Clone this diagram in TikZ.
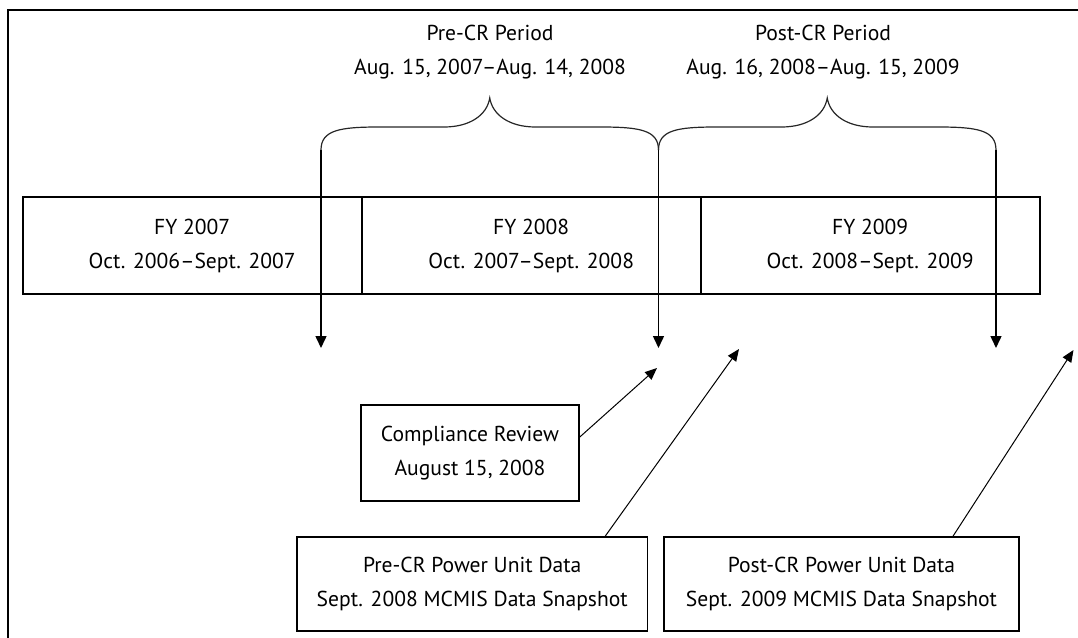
\documentclass[tikz,border=0pt]{standalone}
\usepackage{fontspec}
\setmainfont{PT Sans}
\usetikzlibrary{arrows.meta,calc}
\tikzset{
  pics/bracepic/.style={code={
    \draw[brace] (0,0) .. controls (0,-20) and (19,-23) .. (58,-23) -- (123,-23)
      .. controls (149,-23) and (166,-35) .. (168.75,-52)
      .. controls (171.5,-35) and (188.5,-23) .. (214.5,-23) -- (279.5,-23)
      .. controls (318.5,-23) and (337.5,-20) .. (337.5,0);
  }}
}
\begin{document}
\begin{tikzpicture}[x=0.5pt,y=-0.5pt,
  txt/.style={font=\fontsize{10.8}{17}\selectfont},
  box/.style={draw, line width=0.8pt, inner sep=0pt, align=center, txt},
  fybox/.style={box, minimum width=169.5pt, minimum height=48.5pt},
  lbl/.style={inner sep=0pt, align=center, txt},
  arr/.style={line width=0.75pt, -{Triangle[length=6pt,width=5.5pt]}},
  darr/.style={line width=0.5pt, -{Triangle[length=6pt,width=5pt]}},
  brace/.style={line width=0.6pt, draw=black!85},
]
\useasboundingbox (0,0) rectangle (1078,638);
\draw[line width=0.85pt] (8,638) -- (8,10) -- (1078,10);

% timeline
\node[fybox] (fy7) at (192.2,245.5) {FY 2007\\Oct. 2006–Sept. 2007};
\node[fybox] (fy8) at (531.2,245.5) {FY 2008\\Oct. 2007–Sept. 2008};
\node[fybox] (fy9) at (870.2,245.5) {FY 2009\\Oct. 2008–Sept. 2009};

% period labels
\node[lbl] (prelbl) at (490,52.5) {Pre-CR Period\\Aug. 15, 2007–Aug. 14, 2008};
\node[lbl] (postlbl) at (823,52.5) {Post-CR Period\\Aug. 16, 2008–Aug. 15, 2009};

% braces
\coordinate (b1l) at (321,150);
\coordinate (b1r) at (658.5,150);
\coordinate (b2r) at (996,150);
\pic at (b1l) {bracepic};
\pic at (b1r) {bracepic};

% arrow tips
\coordinate (d1) at (321,348);
\coordinate (d2) at (658.5,348);
\coordinate (d3) at (996,348);
\draw[arr] (b1l) -- (d1);
\draw[arr] (b1r) -- (d2);
\draw[arr] (b2r) -- (d3);

% lower boxes
\node[box, minimum width=109pt, minimum height=48pt] (cr) at (470,453)
  {Compliance Review\\August 15, 2008};
\node[box, minimum width=175.25pt, minimum height=47pt] (pre) at (472.2,584)
  {Pre-CR Power Unit Data\\Sept. 2008 MCMIS Data Snapshot};
\node[box, minimum width=177.5pt, minimum height=47pt] (post) at (841.5,584)
  {Post-CR Power Unit Data\\Sept. 2009 MCMIS Data Snapshot};

\coordinate (t1) at (657,368);
\coordinate (t2) at (739,349);
\coordinate (t3) at (1073.5,350);
\draw[darr] ([yshift=8pt]cr.east) -- (t1);
\draw[darr] ([xshift=66.5pt]pre.north) -- (t2);
\draw[darr] ([xshift=55.75pt]post.north) -- (t3);
\end{tikzpicture}
\end{document}
